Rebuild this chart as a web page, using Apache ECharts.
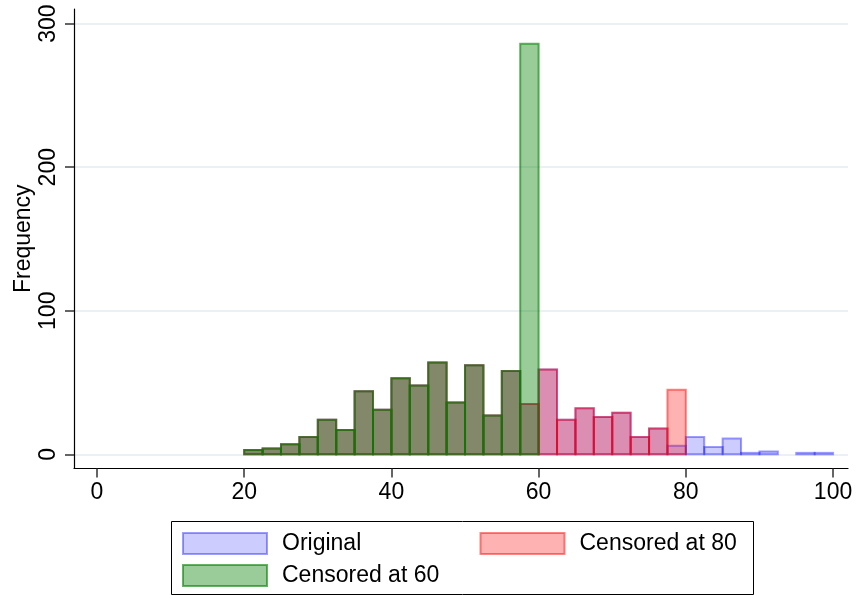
<!DOCTYPE html>
<html>
<head>
<meta charset="utf-8">
<script src="https://cdn.jsdelivr.net/npm/echarts@6/dist/echarts.min.js"></script>
<style>html,body{margin:0;padding:0;background:#fff}#c{width:858px;height:596px}</style>
</head>
<body>
<div id="c"></div>
<script>
// Bin left edges (width 2.5)
const binLeft = [20,22.5,25,27.5,30,32.5,35,37.5,40,42.5,45,47.5,50,52.5,55,57.5,
                 60,62.5,65,67.5,70,72.5,75,77.5,80,82.5,85,87.5,90,92.5,95,97.5];
const binWidth = 2.5;
const original = [3,4,7,12,24,17,44,31,53,48,64,36,62,27,58,35,
                  59,24,32,26,29,12,18,6,12,5,11,1,2,0,1,1];
const censored80 = [3,4,7,12,24,17,44,31,53,48,64,36,62,27,58,35,
                    59,24,32,26,29,12,18,45,0,0,0,0,0,0,0,0];
const censored60 = [3,4,7,12,24,17,44,31,53,48,64,36,62,27,58,286,
                    0,0,0,0,0,0,0,0,0,0,0,0,0,0,0,0];
const xTicks = [0,20,40,60,80,100];
const yTicks = [0,100,200,300];

const styles = {
  'Original':       {fill:'rgba(0,0,255,0.2)',  stroke:'rgba(0,0,255,0.38)'},
  'Censored at 80': {fill:'rgba(255,0,0,0.3)',  stroke:'rgba(255,0,0,0.48)'},
  'Censored at 60': {fill:'rgba(0,128,0,0.4)',  stroke:'rgba(0,128,0,0.6)'}
};

function mkData(vals){ return binLeft.map((x,i)=>[x, x+binWidth, vals[i]]); }

function mkSeries(name, vals){
  const st = styles[name];
  return {
    type:'custom', name:name,
    itemStyle:{color:st.fill, borderColor:st.stroke, borderWidth:2},
    encode:{x:[0,1], y:2},
    data: mkData(vals),
    renderItem:function(params, api){
      const v = api.value(2);
      if (!v) return null;
      const p0 = api.coord([api.value(0), 0]);
      const p1 = api.coord([api.value(1), v]);
      return {type:'rect',
        shape:{x:p0[0], y:p1[1], width:p1[0]-p0[0], height:p0[1]-p1[1]},
        style:{fill:st.fill, stroke:st.stroke, lineWidth:2}};
    }
  };
}

const font = 'Liberation Sans, Arial, Helvetica, sans-serif';
function legendItem(name, left, top){
  const st = styles[name];
  return {
    data:[{name:name, itemStyle:{color:st.fill, borderColor:st.stroke, borderWidth:2}}],
    left:left, top:top, padding:0, itemWidth:84, itemHeight:21, itemGap:0,
    icon:'rect',
    textStyle:{fontSize:23, color:'#000', fontFamily:font, padding:[0,0,0,10]}
  };
}

const chart = echarts.init(document.getElementById('c'), null, {renderer:'canvas'});
chart.setOption({
  animation:false,
  backgroundColor:'#fff',
  grid:{left:74, right:10, top:9, bottom:127.5, containLabel:false, outerBoundsMode:'none'},
  xAxis:{
    type:'value', min:-3.12, max:102.03,
    axisLine:{onZero:false, lineStyle:{color:'#000', width:1.2}},
    axisTick:{show:true, length:9, lineStyle:{color:'#333', width:1.5}, customValues:xTicks},
    axisLabel:{customValues:xTicks, fontSize:23, color:'#000', fontFamily:font, margin:13},
    splitLine:{show:false}
  },
  yAxis:{
    type:'value', min:-9.9, max:310.2,
    name:'Frequency', nameLocation:'middle', nameGap:39, nameMoveOverlap:false,
    nameTextStyle:{fontSize:23, color:'#000', fontFamily:font},
    axisLine:{show:true, onZero:false, lineStyle:{color:'#000', width:1.2}},
    axisTick:{show:true, length:9, lineStyle:{color:'#333', width:1.5}, customValues:yTicks},
    axisLabel:{customValues:yTicks, rotate:90, fontSize:23, color:'#000', fontFamily:font, margin:14},
    splitLine:{show:true, lineStyle:{color:'#eaf0f3', width:2}}
  },
  legend:[
    legendItem('Original', 182, 532),
    legendItem('Censored at 80', 479.5, 532),
    legendItem('Censored at 60', 182, 564)
  ],
  graphic:[{
    type:'rect', shape:{x:171.5, y:521.5, width:582, height:73},
    style:{fill:null, stroke:'#000', lineWidth:1}, z:-1, silent:true
  }],
  series:[
    mkSeries('Original', original),
    mkSeries('Censored at 80', censored80),
    mkSeries('Censored at 60', censored60)
  ]
});
</script>
</body>
</html>
